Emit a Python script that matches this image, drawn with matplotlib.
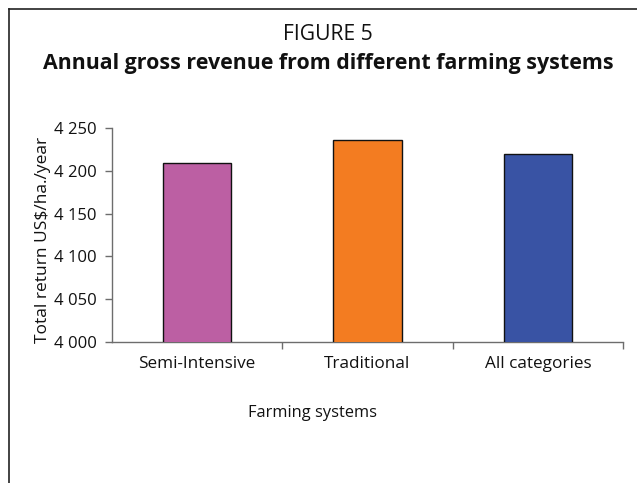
import matplotlib
matplotlib.use("Agg")
import matplotlib.pyplot as plt
from matplotlib.lines import Line2D
from matplotlib.ticker import FixedLocator

plt.rcParams['font.family'] = ['Open Sans', 'DejaVu Sans']

categories = ["Semi-Intensive", "Traditional", "All categories"]
revenue = [4209, 4236, 4220]
bar_colors = ["#BC5FA3", "#F37C21", "#3953A4"]
y_ticks = [4000, 4050, 4100, 4150, 4200, 4250]
y_tick_labels = ["4 000", "4 050", "4 100", "4 150", "4 200", "4 250"]

W, H = 637, 483
fig = plt.figure(figsize=(W / 100, H / 100), dpi=100)

# Frame lines along the top and left edge of the figure box
fig.add_artist(Line2D([9 / W, 1.0], [1 - 9 / H, 1 - 9 / H], color="#222222", lw=1.2,
                      transform=fig.transFigure))
fig.add_artist(Line2D([9 / W, 9 / W], [0.0, 1 - 9 / H], color="#222222", lw=1.2,
                      transform=fig.transFigure))

fig.text(328 / W, 1 - 34 / H, "FIGURE 5", ha="center", va="center", fontsize=15.2,
         color="#111111")
fig.text(328 / W, 1 - 63 / H, "Annual gross revenue from different farming systems",
         ha="center", va="center", fontsize=15.4, fontweight="bold", color="#111111")

left, right, top, bottom = 112, 623, 128, 342
ax = fig.add_axes([left / W, 1 - bottom / H, (right - left) / W, (bottom - top) / H])

x = range(len(categories))
ax.bar(x, revenue, width=0.4, color=bar_colors, edgecolor="#111111", linewidth=1.0,
       bottom=0, zorder=3)
ax.set_xlim(-0.5, len(categories) - 0.5)
ax.set_ylim(y_ticks[0], y_ticks[-1])

ax.set_yticks(y_ticks)
ax.set_yticklabels(y_tick_labels)
ax.set_xticks(list(x))
ax.set_xticklabels(categories)
ax.xaxis.set_minor_locator(FixedLocator([i + 0.5 for i in x]))

for side in ("top", "right"):
    ax.spines[side].set_visible(False)
for side in ("left", "bottom"):
    ax.spines[side].set_color("#6d6d6d")
    ax.spines[side].set_linewidth(1.0)

ax.tick_params(axis="y", which="major", direction="out", length=5, width=1.0,
               color="#6d6d6d", labelsize=12, pad=6, labelcolor="#111111")
ax.tick_params(axis="x", which="major", length=0, labelsize=12.3, pad=10,
               labelcolor="#111111")
ax.tick_params(axis="x", which="minor", direction="out", length=5, width=1.0,
               color="#6d6d6d")

fig.text(43 / W, 1 - 240 / H, "Total return US$/ha./year", rotation=90,
         ha="center", va="center", fontsize=12.5, color="#111111")
fig.text(312 / W, 1 - 413 / H, "Farming systems", ha="center", va="center",
         fontsize=11.8, color="#111111")

fig.savefig("out.png", dpi=100)
